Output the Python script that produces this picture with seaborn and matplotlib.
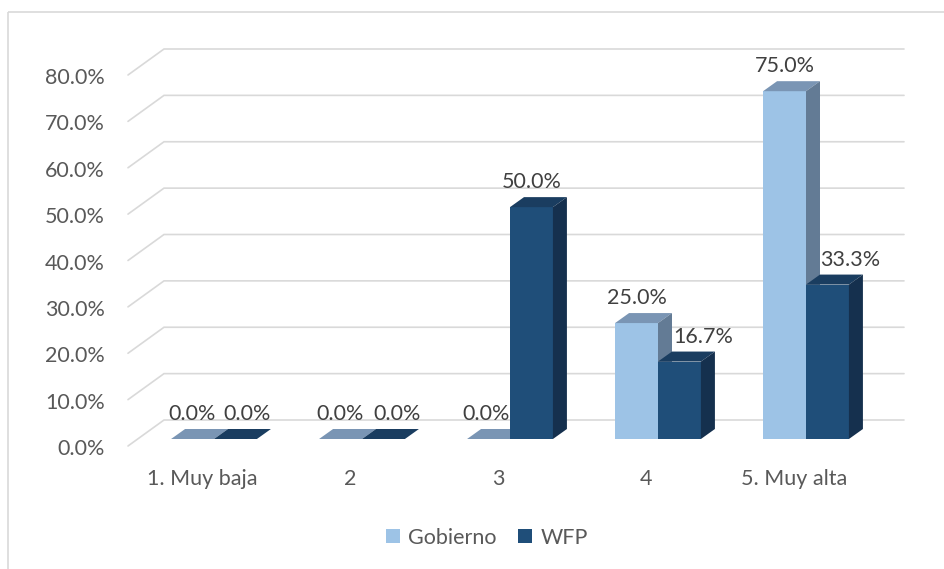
import numpy as np
import pandas as pd
import matplotlib
matplotlib.use("Agg")
import matplotlib.pyplot as plt
import seaborn as sns
from matplotlib.lines import Line2D
from matplotlib.patches import Polygon, Rectangle, Patch
from matplotlib.transforms import IdentityTransform

# ---- data -------------------------------------------------------------
niveles = ["1. Muy baja", "2", "3", "4", "5. Muy alta"]
series = ["Gobierno", "WFP"]
gobierno = [0.0, 0.0, 0.0, 0.25, 0.75]
wfp = [0.0, 0.0, 0.50, 0.167, 0.333]
yticks = [0.0, 0.1, 0.2, 0.3, 0.4, 0.5, 0.6, 0.7, 0.8]

# ---- style ------------------------------------------------------------
face = {"Gobierno": "#9DC3E6", "WFP": "#1F4E79"}
top = {"Gobierno": "#7A95B4", "WFP": "#1A3D60"}
side = {"Gobierno": "#637B95", "WFP": "#15304E"}
grid_c = "#D9D9D9"
tick_c = "#595959"
lab_c = "#404040"
fs = 15.5
# horizontal nudge (px) of each value label
label_dx = {"Gobierno": [0, 0, -2, 0, 0], "WFP": [12, 14, 0, 24, 23]}

sns.set_theme(style="white")
plt.rcParams["font.family"] = ["Lato", "DejaVu Sans"]

df = pd.DataFrame({
    "nivel": niveles * 2,
    "fuente": [series[0]] * len(niveles) + [series[1]] * len(niveles),
    "pct": gobierno + wfp,
})

W, H, DPI = 945, 569, 100
fig = plt.figure(figsize=(W / DPI, H / DPI), dpi=DPI)
# axes = front plane of the bars
ax = fig.add_axes([140 / W, (H - 439) / H, 740 / W, 371 / H])
ax.set_facecolor("none")

sns.barplot(data=df, x="nivel", y="pct", hue="fuente", palette=face,
            width=0.58, saturation=1, linewidth=0, legend=False, ax=ax)
ax.set_xlim(-0.5, 4.5)
ax.set_ylim(0, 0.8)
ax.set_axis_off()


def P(x, y, dx=0.0, dy=0.0):
    """Display point for data (x, y) shifted by (dx, dy) image pixels."""
    px, py = ax.transData.transform((x, y))
    return (px + dx, py - dy)


FRONT = (-12, 7)   # floor front edge relative to bar plane
BACK = (24, -19)   # back wall relative to bar plane
DEPTH = (14, -10)  # depth of each bar

# back wall grid with perspective diagonals
for v in yticks:
    a = P(-0.5, v, *FRONT)
    b = P(-0.5, v, *BACK)
    c = P(4.5, v, *BACK)
    ax.add_line(Line2D([a[0], b[0], c[0]], [a[1], b[1], c[1]], color=grid_c,
                       lw=1.2, transform=IdentityTransform(), clip_on=False,
                       zorder=1, solid_joinstyle="miter"))
    t = P(-0.5, v, -35, 10)
    ax.text(t[0], t[1], f"{v * 100:.1f}%", transform=IdentityTransform(),
            ha="right", va="center", fontsize=fs, color=tick_c)

# category labels on the floor front edge
for i, name in enumerate(niveles):
    t = P(i, 0, -12, 40)
    ax.text(t[0], t[1], name, transform=IdentityTransform(),
            ha="center", va="center", fontsize=fs, color=tick_c)

# extrude each bar: top and side faces, then value label
for k, (name, cont) in enumerate(zip(series, ax.containers)):
    for i, rect in enumerate(cont.patches):
        rect.set_zorder(2 + k)
        x0, w, h = rect.get_x(), rect.get_width(), rect.get_height()
        ftl, ftr, fbr = P(x0, h), P(x0 + w, h), P(x0 + w, 0)
        dx, dy = DEPTH
        btl = (ftl[0] + dx, ftl[1] - dy)
        btr = (ftr[0] + dx, ftr[1] - dy)
        bbr = (fbr[0] + dx, fbr[1] - dy)
        ax.add_patch(Polygon([ftl, ftr, btr, btl], closed=True, fc=top[name],
                             ec="none", transform=IdentityTransform(),
                             clip_on=False, zorder=2 + k))
        if h > 0:
            ax.add_patch(Polygon([fbr, ftr, btr, bbr], closed=True,
                                 fc=side[name], ec="none",
                                 transform=IdentityTransform(),
                                 clip_on=False, zorder=2 + k))
        t = P(x0 + w / 2, h, label_dx[name][i], -25)
        ax.text(t[0], t[1], f"{h * 100:.1f}%", transform=IdentityTransform(),
                ha="center", va="center", fontsize=fs, color=lab_c,
                zorder=5)

# legend
handles = [Patch(facecolor=face[s], edgecolor="none", label=s) for s in series]
fig.legend(handles=handles, loc="center", bbox_to_anchor=(487 / W, 1 - 538 / H),
           ncol=2, frameon=False, fontsize=fs, handlelength=0.62,
           handleheight=0.62, handletextpad=0.4, columnspacing=1.0,
           labelcolor=tick_c)

# chart area border
fig.add_artist(Rectangle((8, H - 12), W + 10, -(H + 10), fill=False,
                         ec=grid_c, lw=1.2, transform=IdentityTransform()))

fig.savefig("out.png", dpi=DPI)
